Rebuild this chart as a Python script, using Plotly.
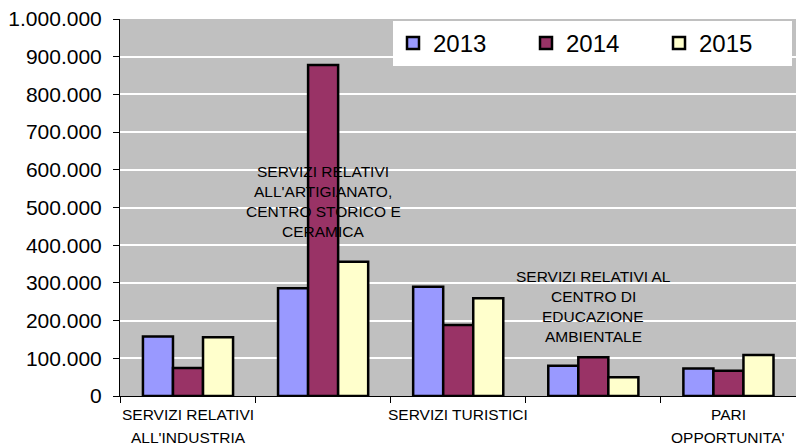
import plotly.graph_objects as go

categories = ["SERVIZI RELATIVI ALL'INDUSTRIA",
              "SERVIZI RELATIVI ALL'ARTIGIANATO, CENTRO STORICO E CERAMICA",
              "SERVIZI TURISTICI",
              "SERVIZI RELATIVI AL CENTRO DI EDUCAZIONE AMBIENTALE",
              "PARI OPPORTUNITA'"]
label_lines = [["SERVIZI RELATIVI", "ALL'INDUSTRIA"],
               ["SERVIZI RELATIVI", "ALL'ARTIGIANATO,", "CENTRO STORICO E", "CERAMICA"],
               ["SERVIZI TURISTICI"],
               ["SERVIZI RELATIVI AL", "CENTRO DI", "EDUCAZIONE", "AMBIENTALE"],
               ["PARI", "OPPORTUNITA'"]]
years = ["2013", "2014", "2015"]
v2013 = [158000, 286000, 290000, 80000, 73000]
v2014 = [74000, 878000, 188000, 103000, 67000]
v2015 = [156000, 356000, 259000, 50000, 109000]
colors = ["#9999FF", "#993366", "#FFFFCC"]

FONT = "Arial, Liberation Sans, sans-serif"
W, H = 796, 447
ML, MT, MB = 120, 19, 51
PH = H - MT - MB  # plot height in px

fig = go.Figure()
for name, vals, col in zip(years, [v2013, v2014, v2015], colors):
    fig.add_trace(go.Bar(x=categories, y=vals, name=name,
                         marker=dict(color=col, line=dict(color="black", width=2.5))))

# category labels: 1,3,5 below the axis, 2,4 inside the plot area (one annotation per line)
for i, (cat, lines) in enumerate(zip(categories, label_lines)):
    for j, line in enumerate(lines):
        if i % 2 == 0:
            py = 19 + 22 * j            # px below axis line
            fig.add_annotation(x=cat, xref="x", y=-py / PH, yref="paper", yanchor="middle",
                               text=line, showarrow=False,
                               font=dict(family=FONT, size=15.5, color="black"))
        else:
            top_px = 225 if i == 1 else 120   # px above axis for first line
            py = top_px - 20 * j
            fig.add_annotation(x=cat, xref="x", y=py / PH, yref="paper", yanchor="middle",
                               text=line, showarrow=False,
                               font=dict(family=FONT, size=15.5, color="black"))

fig.update_layout(
    width=W, height=H,
    margin=dict(l=ML, r=0, t=MT, b=MB),
    paper_bgcolor="white", plot_bgcolor="#C0C0C0",
    separators=",.",
    barmode="group", bargap=0.333, bargroupgap=0,
    font=dict(family=FONT, color="black"),
    showlegend=True,
    legend=dict(orientation="h", x=(393 - ML) / 676, xanchor="left",
                y=(396 - 21) / PH, yanchor="top",
                bgcolor="white", borderwidth=0, font=dict(family=FONT, size=24, color="black"),
                entrywidth=88, entrywidthmode="pixels", itemwidth=30,
                traceorder="normal"),
    xaxis=dict(showticklabels=False, tickson="boundaries", ticks="outside", ticklen=6,
               tickcolor="black", showline=True, linecolor="black", linewidth=1,
               showgrid=False, zeroline=False),
    yaxis=dict(range=[0, 1000000], dtick=100000, tickformat=",d",
               ticks="outside", ticklen=6, tickcolor="black", ticklabelstandoff=7,
               showline=True, linecolor="black", linewidth=1,
               showgrid=True, gridcolor="white", gridwidth=1.5, zeroline=False,
               tickfont=dict(family=FONT, size=21, color="black")),
)

fig.write_html("out.html", config={"displayModeBar": False},
               post_script="document.body.style.margin='0';document.body.style.overflow='hidden';")
